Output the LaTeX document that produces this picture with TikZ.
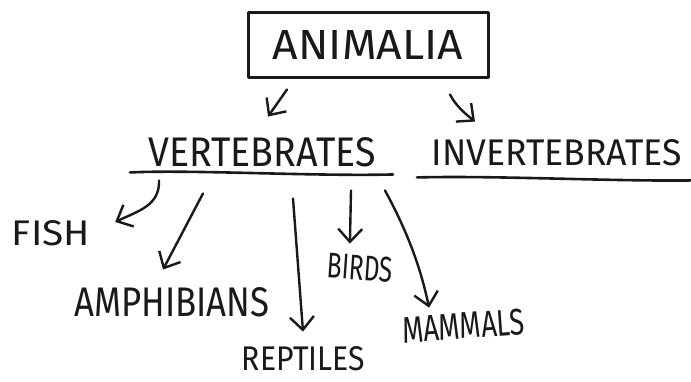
\documentclass[tikz,border=0pt]{standalone}
\usepackage{fontspec}
\setmainfont{Fira Sans}
\usepackage{graphicx}
\usetikzlibrary{arrows.meta,calc}
\newcommand\hw[3]{\resizebox{#1pt}{#2pt}{#3}}
\tikzset{
  ink/.style={draw=black!90, line width=2.4pt, line cap=round, line join=round},
  arr/.style={ink, -{Straight Barb[length=13pt,width=24pt,line width=2.4pt]}},
  lbl/.style={inner sep=0pt, text=black!90},
  uline/.style={ink, line width=2.6pt}
}
\begin{document}
\begin{tikzpicture}[x=1pt,y=-1pt]
\fill[white] (0,0) rectangle (691,381);
\useasboundingbox (0,0) rectangle (691,381);

\node[ink, line width=3pt, minimum width=240pt, minimum height=65pt, inner sep=0pt, text=black!90] (animalia) at (368,44.5) {\hw{190}{29}{ANIMALIA}};

\node[lbl] (vert) at (262,152.5) {\hw{227}{29}{VERTEBRATES}};
\node[lbl] (invert) at (557,152.5) {\hw{250}{26}{INVERTEBRATES}};
\node[lbl] (fish) at (51,233) {\hw{78}{25}{FISH}};
\node[lbl] (amph) at (172,302.5) {\hw{195}{29}{AMPHIBIANS}};
\node[lbl] (rept) at (303.5,358.5) {\hw{123}{24}{REPTILES}};
\node[lbl, rotate=-4] (birds) at (360,267.5) {\hw{66}{25}{BIRDS}};
\node[lbl, rotate=4] (mamm) at (463.5,326) {\hw{123}{26}{MAMMALS}};

% underlines
\coordinate (vL) at ($(vert.south)+(-132,5)$);
\coordinate (vR) at ($(vert.south)+(131,7)$);
\coordinate (iL) at ($(invert.south)+(-140,11.5)$);
\coordinate (iR) at ($(invert.south)+(134,14.5)$);
\draw[uline] (vL) .. controls ($(vL)+(60,-3)$) and ($(vR)+(-80,2)$) .. (vR);
\draw[uline] (iL) .. controls ($(iL)+(80,-2)$) and ($(iR)+(-80,1)$) .. (iR);

% arrows from ANIMALIA
\draw[arr] ($(animalia.south)+(-81,11)$) -- ($(vert.north)+(6,-21)$);
\draw[arr] ($(animalia.south)+(82,16)$) .. controls ($(animalia.south)+(88,28)$) and ($(invert.north)+(-90,-24)$) .. ($(invert.north)+(-82,-17.5)$);

% arrows from VERTEBRATES
\draw[arr] ($(vert.south)+(-103,13)$) .. controls ($(vert.south)+(-102,38)$) and ($(fish.east)+(48,-22)$) .. ($(fish.east)+(25,-11)$);
\draw[arr] ($(vert.south)+(-59,26)$) -- ($(amph.north)+(-9,-18)$);
\draw[arr] ($(vert.south)+(31,31)$) -- ($(rept.north)+(-0.5,-14.5)$);
\draw[arr] ($(vert.south)+(89,23)$) -- ($(birds.north)+(-11,-11)$);
\draw[arr] ($(vert.south)+(123,23)$) .. controls ($(vert.south)+(143,60)$) and ($(mamm.north)+(-43,-50)$) .. ($(mamm.north)+(-33.5,-5)$);
\end{tikzpicture}
\end{document}
